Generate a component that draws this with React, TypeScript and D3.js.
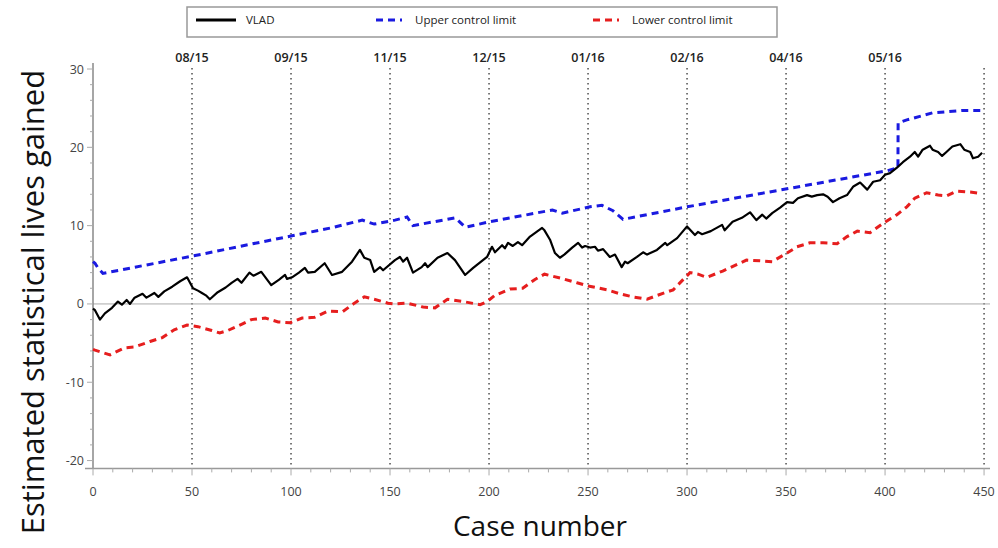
import React from "react";
import * as d3 from "d3";

// VLAD chart: cumulative lives gained with control limits
const vlad: [number, number][] = [
  [0, -0.6], [1, -0.8], [3.5, -2.0], [6, -1.2], [9.6, -0.5], [12.6, 0.3], [14.6, -0.1], [17, 0.5],
  [18.7, 0], [21, 0.8], [25, 1.3], [27, 0.8], [31, 1.4], [33, 0.9], [36, 1.6], [40, 2.2], [44, 2.9],
  [47.5, 3.4], [50.5, 2.0], [53, 1.7], [55, 1.4], [57, 1.1], [59, 0.6], [63, 1.5], [67, 2.1], [70, 2.7],
  [73, 3.2], [75, 2.7], [79, 4.0], [81, 3.6], [85, 4.1], [90, 2.4], [94, 3.1], [97, 3.7], [98, 3.2],
  [100.5, 3.4], [104, 4.0], [107, 4.6], [108.6, 4.0], [112, 4.1], [117, 5.2], [120.7, 3.7], [125.8, 4.1],
  [130.8, 5.4], [134.8, 6.9], [137, 5.9], [140, 5.6], [142, 4.1], [145, 4.7], [146.5, 4.3], [152.5, 5.6],
  [155, 6.0], [156.6, 5.4], [158.6, 5.9], [161.6, 4.0], [166, 4.7], [167.7, 5.2], [169, 4.7], [174, 5.9],
  [179, 6.5], [182.8, 5.6], [187.9, 3.7], [192, 4.6], [199, 6.0], [201.5, 7.3], [203, 6.6], [206.6, 7.5],
  [208, 7.1], [209.6, 7.8], [212, 7.4], [214.6, 7.9], [216.7, 7.5], [220.7, 8.6], [226.8, 9.7], [228, 9.4],
  [230.8, 8.2], [233.3, 6.5], [235.8, 5.9], [238, 6.3], [242, 7.2], [245, 7.8], [247, 7.2], [248.5, 7.4],
  [251, 7.2], [253.5, 7.3], [255, 6.8], [257.6, 7.0], [261, 6.0], [263.6, 6.3], [267, 4.7], [268.7, 5.4],
  [270, 5.2], [274.7, 6.0], [277.8, 6.6], [279.8, 6.3], [284.8, 6.9], [289, 7.8], [290, 7.5], [295, 8.4],
  [300, 9.9], [304, 8.8], [305.5, 9.2], [307.6, 8.9], [312, 9.3], [317.7, 10.1], [319, 9.4], [323, 10.5],
  [327.7, 11.0], [331.8, 11.7], [335, 10.7], [338, 11.4], [340, 10.9], [343, 11.6], [347, 12.3],
  [350.5, 13.0], [353.5, 12.9], [356, 13.5], [360.6, 13.9], [363, 13.7], [365.7, 13.9], [368.7, 14.0],
  [371, 13.7], [373.7, 13.0], [377, 13.5], [380.8, 13.9], [384, 15.0], [387.4, 15.5], [391, 14.6],
  [394, 15.6], [397.5, 15.8], [400, 16.5], [402.5, 16.7], [406, 17.4], [409, 18.1], [412.6, 18.8],
  [415, 19.4], [416.7, 18.8], [419, 19.7], [422.7, 20.2], [424, 19.7], [426.8, 19.4], [428.8, 18.9],
  [431, 19.4], [434, 20.1], [438, 20.4], [440, 19.7], [443, 19.4], [444.4, 18.6], [447, 18.8], [449, 19.3],
];

const upperLimit: [number, number][] = [
  [0, 5.4], [1, 5.2], [2.5, 4.6], [5, 3.9], [50, 6.1], [100.5, 8.7], [120, 9.7], [136, 10.7], [142, 10.2],
  [152.5, 10.7], [158.6, 11.1], [161.6, 10.0], [183, 11.0], [188, 9.8], [200.5, 10.5], [232, 12.0],
  [237, 11.6], [251, 12.4], [257, 12.6], [262.6, 11.9], [267.7, 10.8], [300, 12.4], [350.5, 14.7],
  [401, 17.0], [406.5, 17.4], [406.6, 23.1], [411, 23.5], [424, 24.4], [439, 24.7], [449, 24.7],
];

const lowerLimit: [number, number][] = [
  [0, -5.8], [1, -5.9], [8.6, -6.5], [16, -5.6], [21, -5.5], [28.8, -4.8], [35, -4.3], [41, -3.3],
  [47.5, -2.7], [53, -2.9], [60, -3.4], [64, -3.7], [68, -3.4], [75, -2.6], [80, -2.0], [87, -1.8],
  [93.5, -2.3], [99.5, -2.4], [105.6, -1.8], [112, -1.7], [118.7, -0.9], [126, -1.0], [132, 0.1],
  [137, 0.9], [142, 0.6], [149, 0.1], [152.5, 0.0], [158.6, 0.1], [166.7, -0.4], [172.7, -0.5], [179, 0.6],
  [187, 0.3], [195.5, -0.1], [199, 0.3], [203, 1.1], [210.6, 1.9], [217, 2.0], [223, 3.1], [228, 3.8],
  [236, 3.3], [244.4, 2.7], [250, 2.3], [259.6, 1.8], [266, 1.3], [272.7, 0.9], [279.8, 0.6], [285, 1.1],
  [293, 1.8], [298, 3.1], [301.5, 4.0], [305.6, 3.8], [310, 3.4], [318, 4.2], [330, 5.6], [337, 5.5],
  [343, 5.4], [350.5, 6.5], [355.5, 7.3], [362, 7.8], [368.7, 7.8], [375.8, 7.7], [380.8, 8.6], [386, 9.3],
  [392.4, 9.1], [399, 10.3], [406, 11.4], [411, 12.4], [415, 13.5], [421, 14.2], [426.8, 13.9], [431, 13.8],
  [436, 14.4], [443, 14.3], [448, 14.1],
];

const dateMarks = [50, 100, 150, 200, 250, 300, 350, 400, 450];
const dateLabels = ["08/15", "09/15", "11/15", "12/15", "01/16", "02/16", "04/16", "05/16", ""];

const xTicks = [0, 50, 100, 150, 200, 250, 300, 350, 400, 450];
const yTicks = [-20, -10, 0, 10, 20, 30];

const legendItems = [
  { label: "VLAD", color: "#000", dash: "none" },
  { label: "Upper control limit", color: "#1a1ae0", dash: "7,5" },
  { label: "Lower control limit", color: "#e61e1e", dash: "7,5" },
];

export default function App() {
  const W = 998, H = 548;
  const x = d3.scaleLinear().domain([0, 453]).range([93, 990]);
  const y = d3.scaleLinear().domain([-21, 30]).range([468.4, 69]);
  const line = d3.line<[number, number]>().x((d) => x(d[0])).y((d) => y(d[1]));

  const minorX = d3.range(0, 451, 10);
  const minorY = d3.range(-20, 31, 2);
  const font = "Open Sans, Liberation Sans, sans-serif";

  const legendX = [196, 376, 593];

  return (
    <svg width={W} height={H} style={{ position: "absolute", left: 0, top: 0, background: "#fff" }} fontFamily={font}>
      {/* legend */}
      <rect x={187} y={7} width={590} height={30} fill="#fff" stroke="#999" strokeWidth={1.5} />
      {legendItems.map((it, i) => (
        <g key={it.label}>
          <line x1={legendX[i]} x2={legendX[i] + (i === 0 ? 40 : 26)} y1={20} y2={20}
            stroke={it.color} strokeWidth={3} strokeDasharray={it.dash} />
          <text x={legendX[i] + (i === 0 ? 50 : 39)} y={24} fontSize={11.5} fill="#222">{it.label}</text>
        </g>
      ))}

      {/* date reference lines */}
      {dateMarks.map((m, i) => (
        <g key={m}>
          <line x1={x(m)} x2={x(m)} y1={68} y2={y(-21)} stroke="#222" strokeWidth={1.2} strokeDasharray="1.5,3.5" />
          <text x={x(m)} y={62} textAnchor="middle" fontSize={12.5} fontWeight={600} fill="#222">{dateLabels[i]}</text>
        </g>
      ))}

      {/* zero line */}
      <line x1={x(0)} x2={990} y1={y(0)} y2={y(0)} stroke="#aaa" strokeWidth={1} />

      {/* axes */}
      <line x1={x(0)} x2={x(0)} y1={63} y2={y(-21)} stroke="#888" strokeWidth={1.5} />
      <line x1={x(0) - 8} x2={990} y1={y(-21)} y2={y(-21)} stroke="#999" strokeWidth={1.5} />
      {minorY.map((v) => (
        <line key={"my" + v} x1={x(0) - (v % 10 === 0 ? 6 : 3)} x2={x(0)} y1={y(v)} y2={y(v)} stroke="#aaa" strokeWidth={1} />
      ))}
      {yTicks.map((v) => (
        <text key={"y" + v} x={x(0) - 9} y={y(v) + 4.5} textAnchor="end" fontSize={12.5} fill="#444">{v}</text>
      ))}
      {minorX.map((v) => (
        <line key={"mx" + v} x1={x(v)} x2={x(v)} y1={y(-21)} y2={y(-21) + (v % 50 === 0 ? 7 : 4)} stroke="#aaa" strokeWidth={1} />
      ))}
      {xTicks.map((v) => (
        <text key={"x" + v} x={x(v)} y={496} textAnchor="middle" fontSize={12.5} fill="#444">{v}</text>
      ))}

      {/* series */}
      <path d={line(upperLimit) || ""} fill="none" stroke="#1a1ae0" strokeWidth={3} strokeDasharray="7,5" />
      <path d={line(lowerLimit) || ""} fill="none" stroke="#e61e1e" strokeWidth={3} strokeDasharray="7,5" />
      <path d={line(vlad) || ""} fill="none" stroke="#000" strokeWidth={2.2} strokeLinejoin="round" />

      {/* axis titles */}
      <text x={540} y={536} textAnchor="middle" fontSize={28} fill="#111">Case number</text>
      <text transform={`translate(44, 302) rotate(-90)`} textAnchor="middle" fontSize={31} fill="#111">
        Estimated statistical lives gained
      </text>
    </svg>
  );
}
